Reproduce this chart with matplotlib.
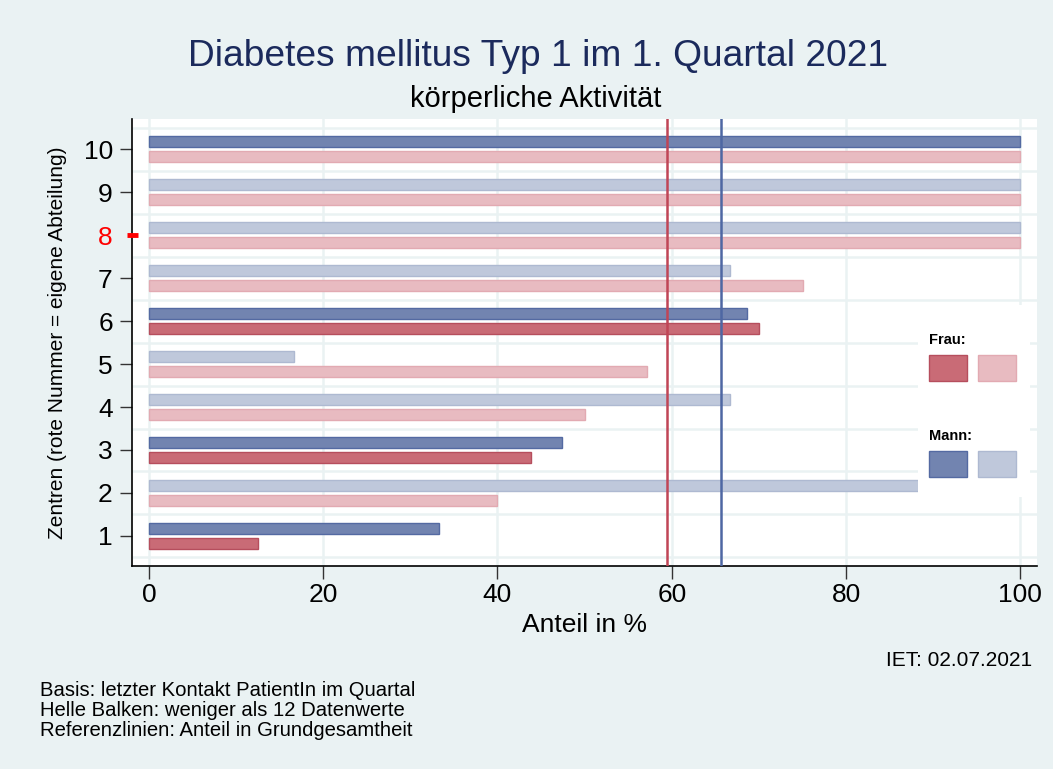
import matplotlib
matplotlib.use("Agg")
import matplotlib.pyplot as plt
from matplotlib.patches import Rectangle
import numpy as np

plt.rcParams['font.family'] = ['Liberation Sans', 'DejaVu Sans']

# data
zentren = [1, 2, 3, 4, 5, 6, 7, 8, 9, 10]
anteil_mann = [33.3, 100.0, 47.4, 66.7, 16.7, 68.6, 66.7, 100.0, 100.0, 100.0]
anteil_frau = [12.5, 40.0, 43.8, 50.0, 57.1, 70.0, 75.0, 100.0, 100.0, 100.0]
# dark bar = at least 12 data values
mann_dunkel = [True, False, True, False, False, True, False, False, False, True]
frau_dunkel = [True, False, True, False, False, True, False, False, False, False]
ref_frau = 59.4
ref_mann = 65.7
eigenes_zentrum = 8

title = "Diabetes mellitus Typ 1 im 1. Quartal 2021"
subtitle = "körperliche Aktivität"
footnotes = ["Basis: letzter Kontakt PatientIn im Quartal",
             "Helle Balken: weniger als 12 Datenwerte",
             "Referenzlinien: Anteil in Grundgesamtheit"]

# colours
bg = "#EAF2F3"
frau_col = {True: ("#C96B76", "#B64E5D"), False: ("#E8BBC1", "#E2AAB2")}
mann_col = {True: ("#7284B0", "#546AA2"), False: ("#BFC8DB", "#AEB9D1")}

fig = plt.figure(figsize=(10.53, 7.69), dpi=100, facecolor=bg)
ax = fig.add_axes([0.1256, 0.264, 0.8592, 0.581])
ax.set_facecolor("white")

h = 0.26
y = np.array(zentren)
for yi, m, f, md, fd in zip(y, anteil_mann, anteil_frau, mann_dunkel, frau_dunkel):
    ax.barh(yi + 0.175, m, height=h, color=mann_col[md][0],
            edgecolor=mann_col[md][1], linewidth=1, zorder=3)
    ax.barh(yi - 0.175, f, height=h, color=frau_col[fd][0],
            edgecolor=frau_col[fd][1], linewidth=1, zorder=3)

ax.axvline(ref_frau, color="#C04556", lw=1.8, zorder=4)
ax.axvline(ref_mann, color="#4E67A3", lw=1.8, zorder=4)

ax.set_xlim(-1.9, 101.9)
ax.set_ylim(0.3, 10.7)
ax.set_xticks([0, 20, 40, 60, 80, 100])
ax.set_yticks(zentren)
ax.set_yticks(np.arange(0.5, 11, 1), minor=True)
ax.grid(axis="x", which="major", color=bg, lw=1.8, zorder=0)
ax.grid(axis="y", which="minor", color=bg, lw=1.8, zorder=0)
ax.tick_params(which="minor", length=0)
ax.tick_params(which="major", labelsize=19, length=9, width=1, color="#333333")
ax.tick_params(axis="y", pad=5)

for s in ["top", "right"]:
    ax.spines[s].set_visible(False)
for s in ["left", "bottom"]:
    ax.spines[s].set_linewidth(1.2)

# own centre: red label and red marker across the axis
for lbl, tk in zip(ax.get_yticklabels(), ax.yaxis.get_major_ticks()):
    if lbl.get_text() == str(eigenes_zentrum):
        lbl.set_color("red")
        tk.tick1line.set_visible(False)
ax.plot([-5.5 / 904.7, 6.0 / 904.7], [eigenes_zentrum, eigenes_zentrum], color="red", lw=3.5,
        transform=ax.get_yaxis_transform(), clip_on=False, zorder=8, solid_capstyle="butt")

ax.set_xlabel("Anteil in %", fontsize=19, labelpad=4)
ax.set_ylabel("Zentren (rote Nummer = eigene Abteilung)", fontsize=15, labelpad=12)

fig.text(0.511, 0.927, title, ha="center", va="center", fontsize=26.7, color="#1B2A5C")
fig.text(0.509, 0.871, subtitle, ha="center", va="center", fontsize=21, color="black")

# legend box, drawn on top of the bars
T = fig.transFigure
W, H = 1053.0, 769.0
def fr(px, py, w, hh):
    return (px / W, 1 - (py + hh) / H), w / W, hh / H

xy, w, hh = fr(918, 305, 112, 192)
ax.add_patch(Rectangle(xy, w, hh, transform=T, facecolor="white", edgecolor="none", zorder=6, clip_on=False))
for lab, cols, ty in [("Frau:", frau_col, 340), ("Mann:", mann_col, 436)]:
    fig.text(929 / W, 1 - ty / H, lab, fontsize=10.5, fontweight="bold", va="center", ha="left", zorder=7)
    for x0, dark in [(929, True), (978, False)]:
        xy, w, hh = fr(x0, ty + 15, 38, 26)
        ax.add_patch(Rectangle(xy, w, hh, transform=T, facecolor=cols[dark][0],
                               edgecolor=cols[dark][1], lw=1, zorder=7, clip_on=False))

fig.text(1032 / W, 1 - 660 / H, "IET: 02.07.2021", ha="right", va="center", fontsize=15)
for i, line in enumerate(footnotes):
    fig.text(40 / W, 1 - (690 + 20.5 * i) / H, line, ha="left", va="center", fontsize=14.6)

fig.savefig("out.png", dpi=100, facecolor=bg)
